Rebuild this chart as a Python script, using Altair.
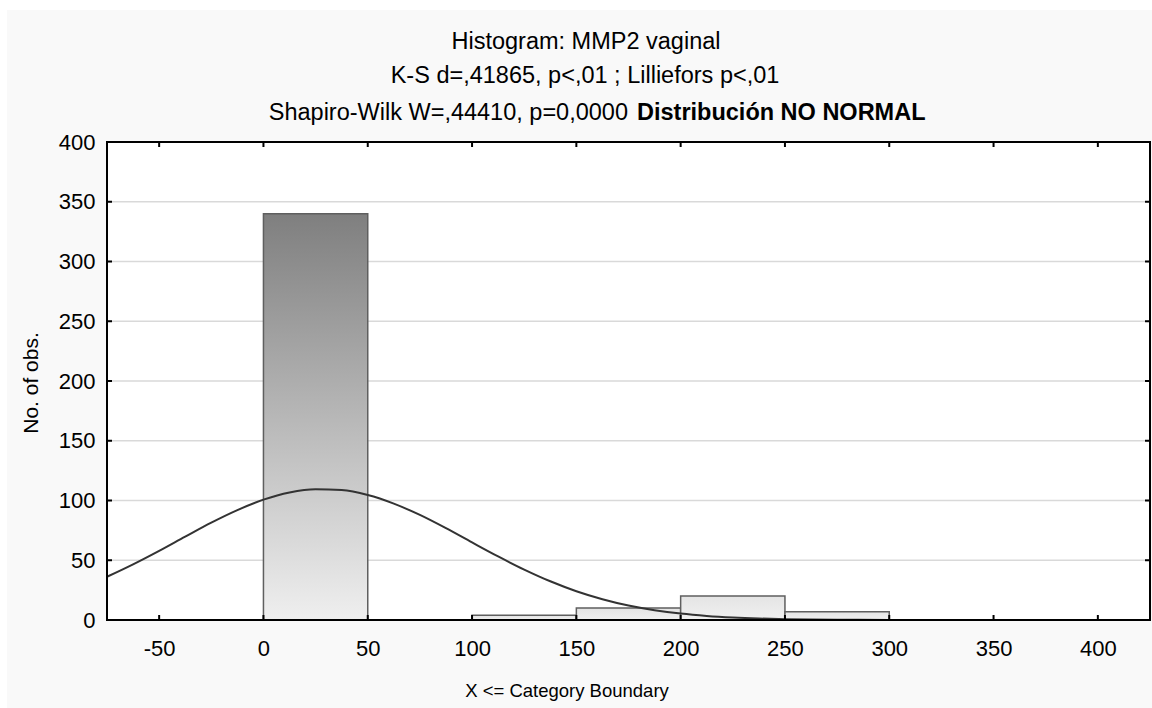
import altair as alt
import pandas as pd

# ---- data ----
bin_start = [-50, 0, 50, 100, 150, 200, 250, 300, 350]
bin_end = [0, 50, 100, 150, 200, 250, 300, 350, 400]
counts = [0, 340, 0, 4, 10, 20, 7, 0, 0]

curve_x = [-75, -62.5, -50, -37.5, -25, -12.5, 0, 12.5, 25, 37.5, 50, 62.5, 75,
           87.5, 100, 112.5, 125, 137.5, 150, 162.5, 175, 187.5, 200, 212.5,
           225, 237.5, 250, 275, 300, 350, 425]
curve_y = [36.2, 46.6, 57.9, 69.8, 81.5, 92.0, 100.7, 106.7, 109.4, 108.7, 104.6,
           97.4, 87.9, 76.8, 64.9, 53.2, 42.2, 32.4, 24.1, 17.4, 12.1, 8.2, 5.35,
           3.39, 2.08, 1.23, 0.71, 0.21, 0.06, 0.0, 0.0]

x_ticks = [-50, 0, 50, 100, 150, 200, 250, 300, 350, 400]
y_ticks = [0, 50, 100, 150, 200, 250, 300, 350, 400]
grid_vals = [50, 100, 150, 200, 250, 300, 350]

title1 = "Histogram: MMP2 vaginal"
title2 = "K-S d=,41865, p<,01 ; Lilliefors p<,01"
title3a = "Shapiro-Wilk W=,44410, p=0,0000"
title3b = "Distribución NO NORMAL"
x_title = "X <= Category Boundary"
y_title = "No. of obs."

W, H = 1043, 478
FONT = "Liberation Sans"
TFS = 23.5   # title lines
LFS = 22     # tick labels
PANEL = "#f9f9f9"

bars = pd.DataFrame({"start": bin_start, "end": bin_end, "count": counts})
curve = pd.DataFrame({"x": curve_x, "y": curve_y})
xt = pd.DataFrame({"v": x_ticks})
yt = pd.DataFrame({"v": y_ticks})
gd = pd.DataFrame({"v": grid_vals})

xscale = alt.Scale(domain=[-75, 425], nice=False, zero=False)
yscale = alt.Scale(domain=[0, 400], nice=False)

lbl_expr = "datum.value < 0 ? '-' + abs(datum.value) : '' + datum.value"

xaxis = alt.Axis(values=x_ticks, title=None, grid=False, ticks=False, domain=False,
                 labelFontSize=LFS, labelFont=FONT, labelColor="black", labelPadding=18,
                 labelExpr=lbl_expr)
yaxis = alt.Axis(values=y_ticks, title=None, grid=False,
                 ticks=False, domain=False, labelFontSize=LFS, labelFont=FONT,
                 labelColor="black", labelPadding=12)


# thin white strips at the top and left edge of the image
def band(x1, x2, y1, y2):
    return alt.Chart(pd.DataFrame({"k": [0]})).mark_rect(color="white").encode(
        x=alt.value(x1), x2=alt.value(x2), y=alt.value(y1), y2=alt.value(y2))


bands = band(-107, 1100, -142, -132) + band(-107, -100, -142, 700)

grid = alt.Chart(gd).mark_rule(color="#d9d9d9", strokeWidth=1.5).encode(
    y=alt.Y("v:Q", scale=yscale))

base_bar = alt.Chart(bars)

tall = base_bar.transform_filter("datum.count > 100").mark_bar(
    stroke="#5f5f5f", strokeWidth=1.5,
    color=alt.Gradient(gradient="linear",
                       stops=[alt.GradientStop(color="#7f7f7f", offset=0),
                              alt.GradientStop(color="#efefef", offset=1)],
                       x1=0, x2=0, y1=0, y2=1)
).encode(
    x=alt.X("start:Q", scale=xscale, axis=xaxis),
    x2="end:Q",
    y=alt.Y("count:Q", scale=yscale, axis=yaxis),
    y2=alt.datum(0),
)

short = base_bar.transform_filter("datum.count <= 100").mark_bar(
    stroke="#5f5f5f", strokeWidth=1.5,
    color=alt.Gradient(gradient="linear",
                       stops=[alt.GradientStop(color="#e4e4e4", offset=0),
                              alt.GradientStop(color="#f0f0f0", offset=1)],
                       x1=0, x2=0, y1=0, y2=1)
).encode(
    x=alt.X("start:Q", scale=xscale),
    x2="end:Q",
    y=alt.Y("count:Q", scale=yscale),
    y2=alt.datum(0),
)

line = alt.Chart(curve).mark_line(color="#333333", strokeWidth=2, interpolate="monotone").encode(
    x=alt.X("x:Q", scale=xscale),
    y=alt.Y("y:Q", scale=yscale),
)

frame = alt.Chart(pd.DataFrame({"k": [0]})).mark_rect(
    fillOpacity=0, stroke="black", strokeWidth=2
).encode(x=alt.value(0), x2=alt.value(W), y=alt.value(0), y2=alt.value(H))

tick_style = dict(color="black", strokeWidth=2)
xt_bottom = alt.Chart(xt).mark_rule(**tick_style).encode(
    x=alt.X("v:Q", scale=xscale), y=alt.value(H), y2=alt.value(H - 5))
xt_top = alt.Chart(xt).mark_rule(**tick_style).encode(
    x=alt.X("v:Q", scale=xscale), y=alt.value(0), y2=alt.value(5))
yt_left = alt.Chart(yt).mark_rule(**tick_style).encode(
    y=alt.Y("v:Q", scale=yscale), x=alt.value(0), x2=alt.value(5))
yt_right = alt.Chart(yt).mark_rule(**tick_style).encode(
    y=alt.Y("v:Q", scale=yscale), x=alt.value(W - 5), x2=alt.value(W))


def label(text, x, y, size, align="center", weight="normal", angle=0):
    return alt.Chart(pd.DataFrame({"t": [text]})).mark_text(
        font=FONT, fontSize=size, color="black", align=align, baseline="alphabetic",
        fontWeight=weight, angle=angle
    ).encode(text="t:N", x=alt.value(x), y=alt.value(y))


titles = (
    label(title1, 479, -93, TFS)
    + label(title2, 478, -59, TFS)
    + label(title3a, 521, -22, TFS, align="right")
    + label(title3b, 530, -22, TFS, align="left", weight="bold")
    + label(x_title, 460, 555, 18.5)
    + label(y_title, -69, 241, 21, angle=270)
)

chart = alt.layer(
    bands, grid, tall, short, line, frame, xt_bottom, xt_top, yt_left, yt_right, titles
).properties(
    width=W, height=H,
    padding={"left": 107, "top": 142, "right": 2, "bottom": 88},
    autosize=alt.AutoSizeParams(type="none"),
    background=PANEL,
).configure_view(
    strokeWidth=0, fill="white"
)

chart.save("out.html", embed_options={"renderer": "svg", "actions": False})
